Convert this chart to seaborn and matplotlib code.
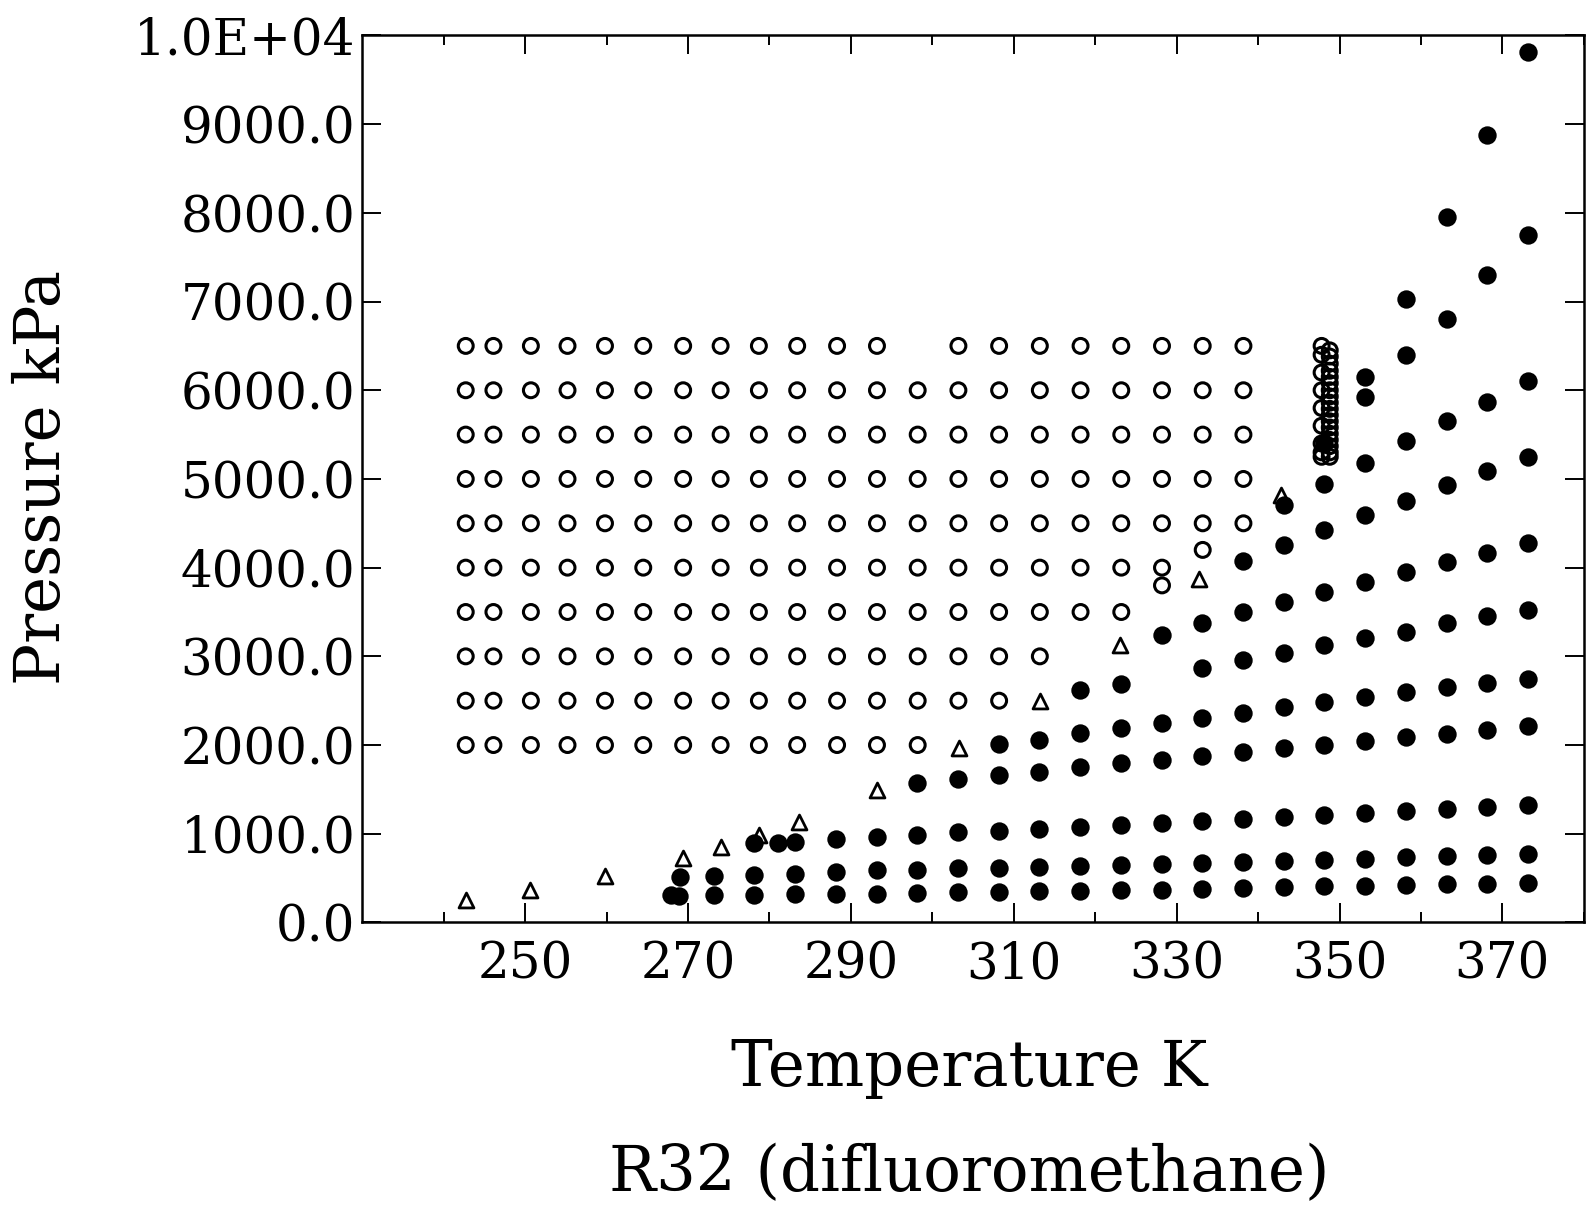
import numpy as np
import pandas as pd
import matplotlib
matplotlib.use("Agg")
import matplotlib.pyplot as plt
import seaborn as sns
from matplotlib.ticker import FixedLocator, FixedFormatter, NullLocator

# ---------------- data ----------------
# open circles: compressed-liquid grid (temperature columns, pressure rows)
liq_T_cols = [242.7, 246.1, 250.7, 255.2, 259.8, 264.5, 269.4, 274.0, 278.7, 283.4,
              288.3, 293.2, 298.2, 303.2, 308.2, 313.2, 318.2, 323.2, 328.2, 333.2, 338.2]
liq_rows_P = [2000, 2500, 3000, 3500, 4000, 4500, 5000, 5500, 6000, 6500]
# indices of the columns present in each row
liq_row_cols = {
    2000: list(range(0, 13)),
    2500: list(range(0, 15)),
    3000: list(range(0, 16)),
    3500: list(range(0, 18)),
    4000: list(range(0, 19)),
    4500: list(range(0, 21)),
    5000: list(range(0, 21)),
    5500: list(range(0, 21)),
    6000: list(range(0, 21)),
    6500: list(range(0, 12)) + list(range(13, 21)),
}
liq_extra_T = [328.2, 333.2]
liq_extra_P = [3800, 4200]
# dense stack of open circles near the critical isotherm
stack_left_T = 347.8
stack_left_P = [6500, 6400, 6200, 6000, 5800, 5600, 5400, 5300, 5250]
stack_right_T = 348.8
stack_right_P = [6450, 6380, 6300, 6220, 6150, 6080, 6000, 5930, 5860, 5790, 5720,
                 5650, 5580, 5510, 5440, 5370, 5300, 5250]

# triangles: saturation points
sat_T = [242.7, 250.6, 259.8, 269.4, 274.0, 278.7, 283.6, 293.2, 303.3, 313.2, 323.0, 332.7, 342.8]
sat_P = [251, 361, 519, 721, 845, 984, 1134, 1497, 1961, 2494, 3130, 3871, 4820]

# filled circles: vapour isochores
isoA_T = [267.9, 268.9, 273.15, 278.15, 283.15, 288.15, 293.15, 298.15, 303.15, 308.15, 313.15,
          318.15, 323.15, 328.15, 333.15, 338.15, 343.15, 348.15, 353.15, 358.15, 363.15, 368.15, 373.15]
isoA_P = [305, 302, 309, 312, 316, 319, 326, 332, 342, 345, 352, 356, 362, 371, 382, 389, 395,
          410, 416, 422, 436, 436, 440]
isoB_T = [269.05, 273.15, 278.15, 283.15, 288.15, 293.15, 298.15, 303.15, 308.15, 313.15, 318.15,
          323.15, 328.15, 333.15, 338.15, 343.15, 348.15, 353.15, 358.15, 363.15, 368.15, 373.15]
isoB_P = [513, 528, 538, 550, 565, 588, 596, 610, 612, 624, 639, 650, 658, 673, 680, 693, 708,
          718, 733, 750, 765, 772]
isoC_T = [278.15, 281.0, 283.15, 288.15, 293.15, 298.15, 303.15, 308.15, 313.15, 318.15, 323.15,
          328.15, 333.15, 338.15, 343.15, 348.15, 353.15, 358.15, 363.15, 368.15, 373.15]
isoC_P = [897, 900, 910, 940, 962, 985, 1018, 1029, 1057, 1080, 1097, 1124, 1147, 1169, 1191,
          1213, 1230, 1256, 1279, 1300, 1320]
isoD_T = [298.15, 303.15, 308.15, 313.15, 318.15, 323.15, 328.15, 333.15, 338.15, 343.15, 348.15,
          353.15, 358.15, 363.15, 368.15, 373.15]
isoD_P = [1568, 1617, 1659, 1698, 1750, 1792, 1828, 1874, 1927, 1964, 2005, 2049, 2090, 2127,
          2175, 2213]
isoE_T = [308.15, 313.15, 318.15, 323.15, 328.15, 333.15, 338.15, 343.15, 348.15, 353.15, 358.15,
          363.15, 368.15, 373.15]
isoE_P = [2009, 2060, 2139, 2188, 2248, 2308, 2360, 2428, 2480, 2538, 2595, 2655, 2701, 2750]
isoF_T = [318.15, 323.15, 333.15, 338.15, 343.15, 348.15, 353.15, 358.15, 363.15, 368.15, 373.15]
isoF_P = [2626, 2689, 2873, 2959, 3042, 3130, 3210, 3280, 3371, 3450, 3528]
isoG_T = [328.15, 333.15, 338.15, 343.15, 348.15, 353.15, 358.15, 363.15, 368.15, 373.15]
isoG_P = [3240, 3374, 3498, 3615, 3720, 3835, 3952, 4068, 4169, 4282]
isoH_T = [338.15, 343.15, 348.15, 353.15, 358.15, 363.15, 368.15, 373.15]
isoH_P = [4075, 4255, 4428, 4593, 4755, 4928, 5089, 5247]
isoI_T = [343.15, 348.15, 353.15, 358.15, 363.15, 368.15, 373.15]
isoI_P = [4707, 4948, 5184, 5425, 5655, 5873, 6102]
isoJ_T = [348.15, 353.15, 358.15, 363.15, 368.15, 373.15]
isoJ_P = [5408, 5919, 6394, 6800, 7294, 7753]
isoK_T = [353.15, 358.15, 363.15, 368.15, 373.15]
isoK_P = [6145, 7028, 7950, 8877, 9815]

x_major = [250, 270, 290, 310, 330, 350, 370]
x_minor = [240, 260, 280, 300, 320, 340, 360, 380]
y_ticks = [0, 1000, 2000, 3000, 4000, 5000, 6000, 7000, 8000, 9000, 10000]
y_labels = ["0.0", "1000.0", "2000.0", "3000.0", "4000.0", "5000.0",
            "6000.0", "7000.0", "8000.0", "9000.0", "1.0E+04"]

# ---------------- tables ----------------
lT, lP = [], []
for p in liq_rows_P:
    for i in liq_row_cols[p]:
        lT.append(liq_T_cols[i]); lP.append(p)
lT += liq_extra_T; lP += liq_extra_P
lT += [stack_left_T] * len(stack_left_P); lP += stack_left_P
lT += [stack_right_T] * len(stack_right_P); lP += stack_right_P
liq_df = pd.DataFrame({"T": lT, "P": lP})

sat_df = pd.DataFrame({"T": sat_T, "P": sat_P})

vT, vP = [], []
for tt, pp in [(isoA_T, isoA_P), (isoB_T, isoB_P), (isoC_T, isoC_P), (isoD_T, isoD_P),
               (isoE_T, isoE_P), (isoF_T, isoF_P), (isoG_T, isoG_P), (isoH_T, isoH_P),
               (isoI_T, isoI_P), (isoJ_T, isoJ_P), (isoK_T, isoK_P)]:
    vT += tt; vP += pp
vap_df = pd.DataFrame({"T": vT, "P": vP})

# ---------------- plot ----------------
sns.set_theme(style="ticks")
plt.rcParams['font.family'] = ['DejaVu Serif', 'DejaVu Sans']
plt.rcParams['axes.edgecolor'] = 'black'

fig = plt.figure(figsize=(15.87, 12.15), dpi=100)
ax = fig.add_axes([0.2283, 0.2408, 0.7697, 0.7300])
ax.set_facecolor('white')

sns.scatterplot(data=liq_df, x="T", y="P", ax=ax, marker="o", s=115, color="black",
                facecolor="none", edgecolor="black", linewidth=2.2, legend=False, zorder=3)
sns.scatterplot(data=sat_df, x="T", y="P", ax=ax, marker="^", s=115, color="black",
                facecolor="white", edgecolor="black", linewidth=2.0, legend=False, zorder=4)
sns.scatterplot(data=vap_df, x="T", y="P", ax=ax, marker="o", s=175, color="black",
                edgecolor="black", linewidth=0, legend=False, zorder=5)

ax.set_xlim(230, 380)
ax.set_ylim(0, 10000)
ax.xaxis.set_major_locator(FixedLocator(x_major))
ax.xaxis.set_minor_locator(FixedLocator(x_minor))
ax.yaxis.set_major_locator(FixedLocator(y_ticks))
ax.yaxis.set_major_formatter(FixedFormatter(y_labels))
ax.yaxis.set_minor_locator(NullLocator())
ax.set_xlabel("")
ax.set_ylabel("")

for s in ax.spines.values():
    s.set_visible(True)
    s.set_linewidth(1.8)
    s.set_color('black')

ax.tick_params(axis='both', which='both', direction='in', top=True, right=True,
               bottom=True, left=True, colors='black', width=1.4)
ax.tick_params(axis='both', which='major', length=14)
ax.tick_params(axis='both', which='minor', length=7)
ax.tick_params(axis='x', which='major', labelsize=36, pad=13)
ax.tick_params(axis='y', which='major', labelsize=36, pad=5)

fig.text(0.611, 0.121, "Temperature K", fontsize=45, ha='center', va='center', color='black')
fig.text(0.611, 0.034, "R32 (difluoromethane)", fontsize=45, ha='center', va='center', color='black')
fig.text(0.027, 0.607, "Pressure kPa", fontsize=45, ha='center', va='center', rotation=90, color='black')

fig.savefig("out.png", dpi=100, facecolor='white')
